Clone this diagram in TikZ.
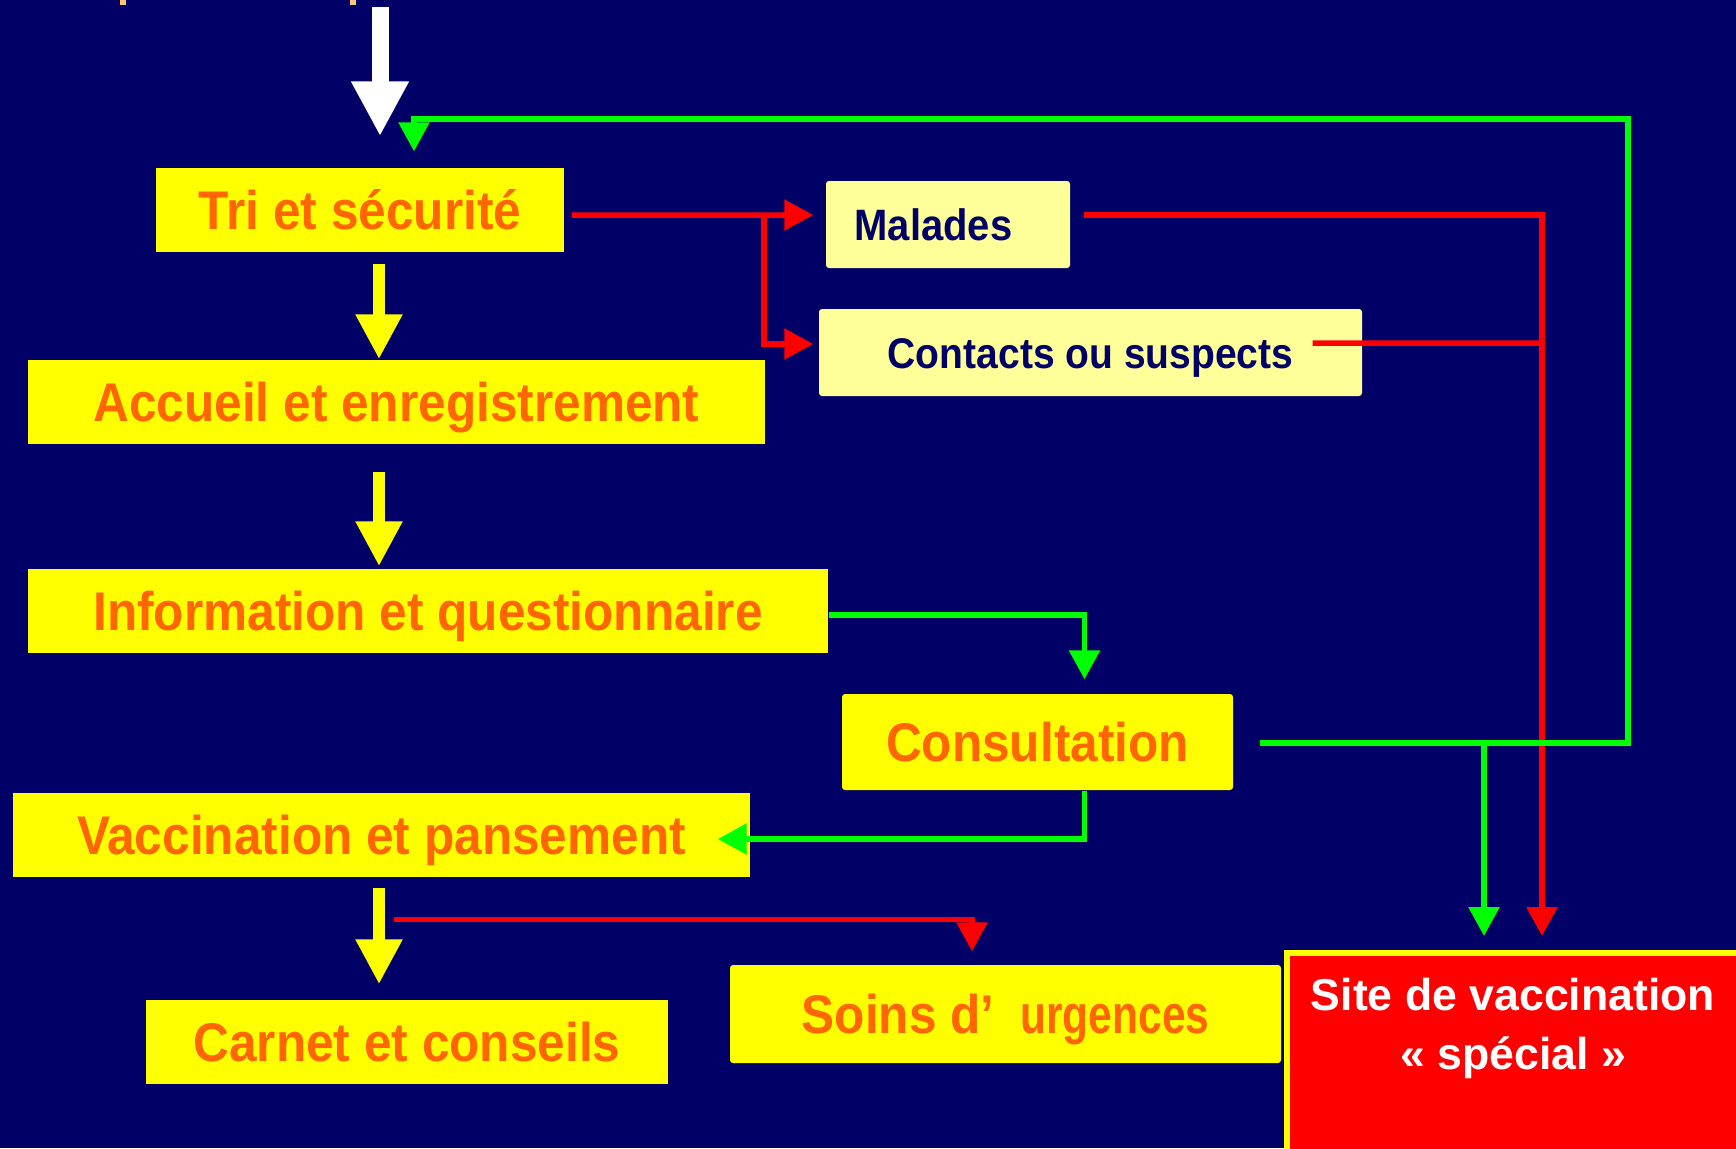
\documentclass[tikz,border=0pt]{standalone}
\usepackage{fontspec}
\setmainfont{Liberation Sans}
\newfontfamily\narrowfont{Liberation Sans}[FakeStretch=0.91]
\newfontfamily\tightfont{Liberation Sans}[FakeStretch=0.78]
\usetikzlibrary{arrows.meta,calc}
\definecolor{bgnavy}{RGB}{0,0,102}
\definecolor{boxyellow}{RGB}{255,255,0}
\definecolor{paleyellow}{RGB}{255,255,153}
\definecolor{textorange}{RGB}{255,102,0}
\definecolor{linered}{RGB}{255,0,0}
\definecolor{linegreen}{RGB}{0,255,0}
\definecolor{titleorange}{RGB}{255,200,120}

\begin{document}
\begin{tikzpicture}[
    stepbox/.style={rectangle, fill=boxyellow, text=textorange, inner sep=0pt,
        font=\narrowfont\bfseries\fontsize{15.5}{18}\selectfont,
        text height=0.39cm, text depth=0pt, minimum height=0.84cm},
    casebox/.style={rectangle, rounded corners=0.03cm, fill=paleyellow, text=bgnavy, inner sep=0pt,
        font=\narrowfont\bfseries\fontsize{12.2}{14}\selectfont,
        text height=0.31cm, text depth=0pt, minimum height=0.87cm},
    sitebox/.style={rectangle, fill=linered, draw=boxyellow, line width=0.06cm},
    sitetext/.style={text=white, align=center, inner sep=0pt,
        font=\bfseries\fontsize{12.7}{16.8}\selectfont},
    yellowarrow/.style={draw=boxyellow, line width=0.12cm, -{Triangle[length=0.45cm,width=0.44cm]}},
    redarrow/.style={draw=linered, line width=0.055cm, -{Triangle[length=0.29cm,width=0.30cm]}},
    redline/.style={draw=linered, line width=0.055cm},
    greenarrow/.style={draw=linegreen, line width=0.055cm, -{Triangle[length=0.29cm,width=0.30cm]}}
]
    % Background
    \fill[bgnavy] (0,0) rectangle (17.36,-11.48);
    \useasboundingbox (0,0) rectangle (17.36,-11.48);
    \fill[titleorange] (1.20,0) rectangle (1.26,-0.05);
    \fill[titleorange] (3.50,0) rectangle (3.56,-0.05);
    % Steps
    \node[stepbox, minimum width=4.08cm] (tri) at (3.60,-2.10) {Tri et sécurité};
    \node[stepbox, minimum width=7.37cm] (accueil) at (3.965,-4.02) {Accueil et enregistrement};
    \node[stepbox, minimum width=8.00cm] (info) at (4.28,-6.11) {Information et questionnaire};
    \node[stepbox, rounded corners=0.03cm, minimum width=3.91cm, minimum height=0.96cm] (consult) at (10.375,-7.42) {Consultation};
    \node[stepbox, minimum width=7.37cm] (vacc) at (3.815,-8.35) {Vaccination et pansement};
    \node[stepbox, minimum width=5.22cm] (carnet) at (4.07,-10.42) {Carnet et conseils};
    \node[stepbox, rounded corners=0.03cm, minimum width=5.51cm, minimum height=0.98cm] (soins) at (10.055,-10.14) {Soins d’\hspace{0.26cm}{\tightfont urgences}};
    % Cases
    \node[casebox, minimum width=2.44cm, font=\narrowfont\bfseries\fontsize{12.5}{14}\selectfont] (malades) at (9.48,-2.245) {Malades\kern0.29cm};
    \node[casebox, minimum width=5.43cm] (contacts) at (10.905,-3.525) {Contacts ou suspects};
    \node[sitebox, anchor=north west, minimum width=4.8cm, minimum height=2.3cm] (site) at (12.84,-9.50) {};
    \node[sitetext, anchor=north] (sitelabel) at (15.13,-9.77) {Site de vaccination\\« spécial »};
    % Entrance
    \coordinate (entry) at (3.80,-0.07);
    \draw[line width=0.17cm, white, -{Triangle[length=0.55cm,width=0.54cm]}] (entry) -- ([yshift=0.31cm]tri.north -| entry);
    % Main flow
    \coordinate (spine) at (3.79,0);
    \foreach \a/\b/\sgap/\egap in {tri/accueil/0.11/0, accueil/info/0.27/0.02, vacc/carnet/0.10/0.15}
        \draw[yellowarrow] ([yshift=-\sgap cm]\a.south -| spine) -- ([yshift=\egap cm]\b.north -| spine);
    % Triage (red)
    \coordinate (redsplit) at (7.64,-2.15);
    \coordinate (redjoin) at (15.42,-3.43);
    \draw[redarrow] ([xshift=0.07cm,yshift=-0.05cm]tri.east) -- ([xshift=-0.12cm]malades.west |- redsplit);
    \draw[redarrow] (redsplit) |- ([xshift=-0.05cm,yshift=0.085cm]contacts.west);
    \draw[redarrow] ([xshift=0.13cm,yshift=0.095cm]malades.east) -| ([yshift=0.14cm]redjoin |- site.north);
    \draw[redline] ([xshift=-0.50cm,yshift=0.095cm]contacts.east) -- (redjoin);
    % Consultation (green)
    \coordinate (loopcorner) at (16.28,-1.19);
    \coordinate (greenfork) at (14.84,-7.43);
    \draw[greenarrow] ([yshift=-0.04cm]info.east) -| ([xshift=0.47cm,yshift=0.14cm]consult.north);
    \draw[greenarrow] ([xshift=0.47cm]consult.south) |- ([xshift=-0.33cm,yshift=-0.04cm]vacc.east);
    \draw[greenarrow] ([xshift=0.26cm,yshift=-0.01cm]consult.east) -| (loopcorner) -| ([xshift=0.54cm,yshift=0.16cm]tri.north);
    \draw[greenarrow] (greenfork) -- ([yshift=0.14cm]greenfork |- site.north);
    % Emergency
    \draw[redarrow] ([xshift=0.125cm,yshift=-0.42cm]vacc.south) -| ([xshift=-0.335cm,yshift=0.13cm]soins.north);
\end{tikzpicture}
\end{document}
